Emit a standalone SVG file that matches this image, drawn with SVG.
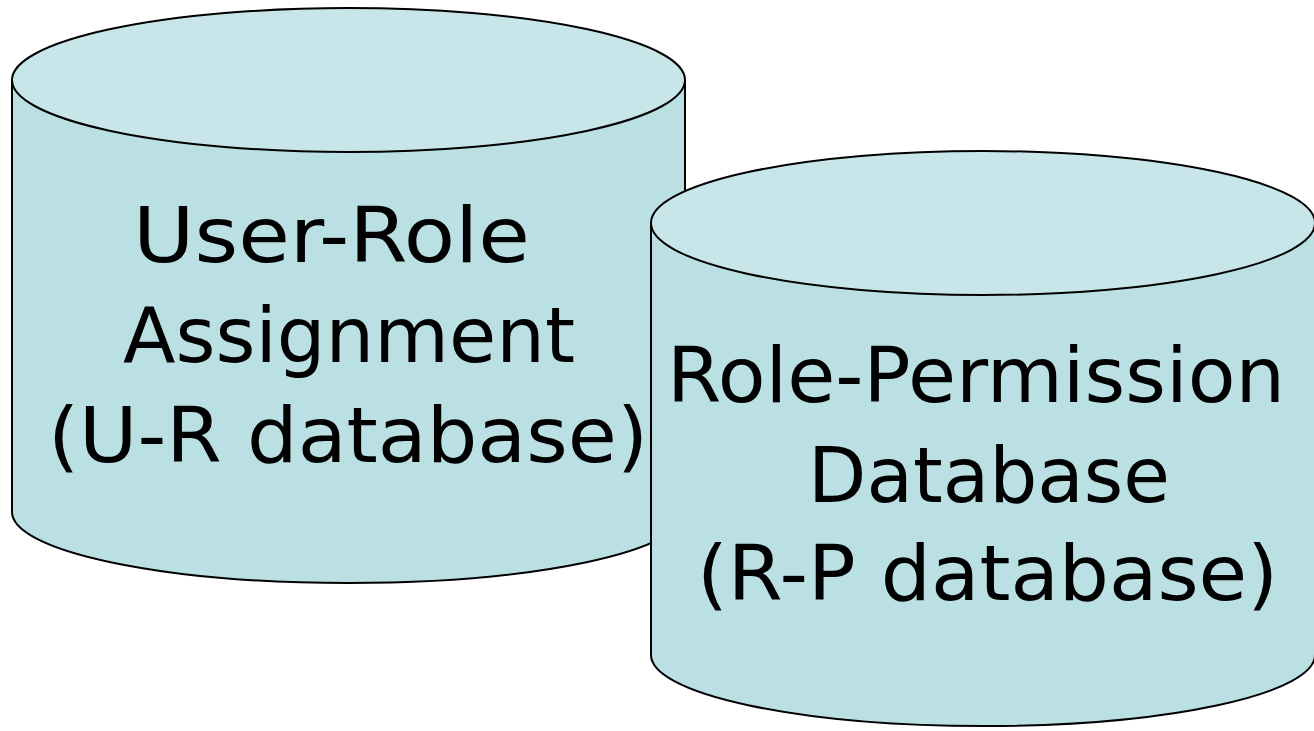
<svg xmlns="http://www.w3.org/2000/svg" width="1314" height="731" viewBox="0 0 1314 731">
<style>
.body{fill:#BAE0E3;stroke:#000;stroke-width:2}
.top{fill:#C8E6E9;stroke:#000;stroke-width:2}
.lbl{font-family:"DejaVu Sans","Noto Sans",sans-serif;font-size:76px;fill:#000}
</style>
<rect width="1314" height="731" fill="#fff"/>
<g id="ur-db">
<path class="body" d="M12,80 L12,512 A336.5,71 0 0 0 685,512 L685,80 Z"/>
<ellipse class="top" cx="348.5" cy="80" rx="336.5" ry="72"/>
<text class="lbl" x="133" y="262" textLength="397" lengthAdjust="spacingAndGlyphs">User-Role</text>
<text class="lbl" x="123" y="362" textLength="452" lengthAdjust="spacingAndGlyphs">Assignment</text>
<text class="lbl" x="48" y="462" textLength="600" lengthAdjust="spacingAndGlyphs">(U-R database)</text>
</g>
<g id="rp-db">
<path class="body" d="M651,223 L651,655 A332,71 0 0 0 1315,655 L1315,223 Z"/>
<ellipse class="top" cx="983" cy="223" rx="332" ry="72"/>
<text class="lbl" x="667" y="402" textLength="618" lengthAdjust="spacingAndGlyphs">Role-Permission</text>
<text class="lbl" x="808" y="502" textLength="362" lengthAdjust="spacingAndGlyphs">Database</text>
<text class="lbl" x="697" y="600" textLength="581" lengthAdjust="spacingAndGlyphs">(R-P database)</text>
</g>
<g id="connectors"/>
</svg>
